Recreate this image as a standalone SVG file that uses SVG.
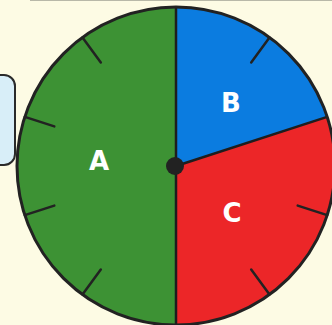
<svg xmlns="http://www.w3.org/2000/svg" width="332" height="325" viewBox="0 0 332 325">
  <style>
    .lbl { font-family: "DejaVu Sans", "Liberation Sans", sans-serif; font-weight: bold; font-size: 26px; fill: #ffffff; text-anchor: middle; }
    .tick { stroke: #222; stroke-width: 2.5; stroke-linecap: round; }
    .div { stroke: #1e1e1e; stroke-width: 2.5; fill: none; }
  </style>
  <rect x="0" y="0" width="332" height="325" fill="#fdfbe4"/>
  <line x1="30" y1="0.5" x2="332" y2="0.5" stroke="#b8b8a8" stroke-width="1"/>
  <g id="box">
    <rect x="-20" y="75" width="35" height="90" rx="11" fill="#d8eef8" stroke="#2a2a2a" stroke-width="2"/>
  </g>
  <g id="sector-a">
    <path d="M176,166 L176,7 A159,159 0 0 0 176,325 Z" fill="#3d9234"/>
    <text class="lbl" x="99" y="170">A</text>
  </g>
  <g id="sector-b">
    <path d="M176,166 L176,7 A159,159 0 0 1 327.2,116.9 Z" fill="#0b7ce0"/>
    <text class="lbl" x="231" y="112">B</text>
  </g>
  <g id="sector-c">
    <path d="M176,166 L327.2,116.9 A159,159 0 0 1 176,325 Z" fill="#ec2628"/>
    <text class="lbl" x="232" y="222">C</text>
  </g>
  <g id="ticks">
    <line class="tick" x1="269.5" y1="37.4" x2="251.2" y2="62.4"/>
    <line class="tick" x1="327.2" y1="215.1" x2="297.7" y2="205.6"/>
    <line class="tick" x1="269.5" y1="294.6" x2="251.2" y2="269.6"/>
    <line class="tick" x1="82.5" y1="294.6" x2="100.8" y2="269.6"/>
    <line class="tick" x1="24.8" y1="215.1" x2="54.3" y2="205.6"/>
    <line class="tick" x1="24.8" y1="116.9" x2="54.3" y2="126.4"/>
    <line class="tick" x1="82.5" y1="37.4" x2="100.8" y2="62.4"/>
  </g>
  <g id="connectors">
    <line class="div" x1="176" y1="7" x2="176" y2="325"/>
    <line class="div" x1="176" y1="166" x2="327.2" y2="116.9"/>
  </g>
  <circle cx="176" cy="166" r="159" fill="none" stroke="#222" stroke-width="3"/>
  <g id="hub">
    <circle cx="175" cy="166" r="9" fill="#222"/>
  </g>
</svg>
